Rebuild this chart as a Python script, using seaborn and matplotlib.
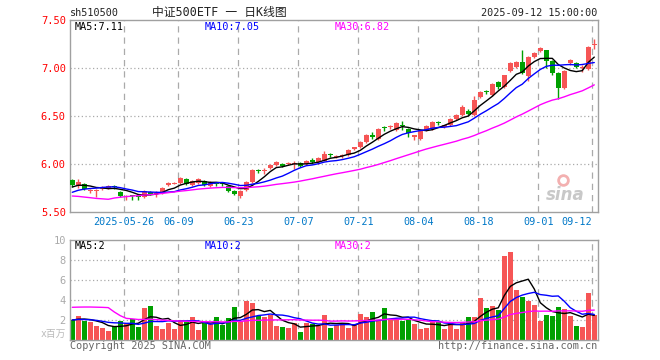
import numpy as np
import pandas as pd
import seaborn as sns
import matplotlib.pyplot as plt

# daily candles, 2025-05-13 .. 2025-09-12
opens = [5.83, 5.78, 5.79, 5.715, 5.72, 5.74, 5.75, 5.76, 5.71, 5.66,
         5.67, 5.66, 5.66, 5.71, 5.69, 5.70, 5.78, 5.795, 5.80, 5.84,
         5.78, 5.80, 5.82, 5.77, 5.80, 5.795, 5.77, 5.72, 5.67, 5.73,
         5.81, 5.935, 5.925, 5.96, 5.99, 6.00, 6.00, 6.00, 6.01, 6.00,
         6.045, 6.02, 6.03, 6.095, 6.07, 6.08, 6.09, 6.16, 6.18, 6.23,
         6.30, 6.26, 6.375, 6.38, 6.35, 6.41, 6.36, 6.285, 6.26, 6.35,
         6.36, 6.435, 6.38, 6.40, 6.47, 6.51, 6.55, 6.51, 6.70, 6.75,
         6.72, 6.85, 6.80, 6.97, 7.01, 7.06, 6.91, 7.11, 7.17, 7.18,
         7.07, 6.95, 6.79, 7.05, 7.05, 6.995, 6.99, 7.24]
closes = [5.78, 5.81, 5.74, 5.72, 5.725, 5.76, 5.77, 5.755, 5.67, 5.665,
          5.665, 5.655, 5.72, 5.69, 5.70, 5.75, 5.80, 5.80, 5.85, 5.79,
          5.82, 5.84, 5.78, 5.81, 5.795, 5.79, 5.72, 5.69, 5.72, 5.81,
          5.94, 5.93, 5.93, 5.99, 6.02, 5.98, 6.01, 6.005, 5.98, 6.03,
          6.015, 6.06, 6.10, 6.09, 6.075, 6.085, 6.15, 6.165, 6.23, 6.30,
          6.28, 6.36, 6.37, 6.39, 6.43, 6.39, 6.32, 6.29, 6.34, 6.39,
          6.44, 6.43, 6.40, 6.47, 6.51, 6.59, 6.52, 6.67, 6.75, 6.745,
          6.83, 6.80, 6.92, 7.05, 7.06, 6.95, 7.11, 7.15, 7.21, 7.07,
          6.95, 6.79, 6.97, 7.08, 7.01, 7.00, 7.22, 7.245]
highs = [5.84, 5.84, 5.80, 5.74, 5.74, 5.77, 5.78, 5.78, 5.72, 5.68,
         5.68, 5.67, 5.73, 5.72, 5.72, 5.76, 5.81, 5.81, 5.86, 5.85,
         5.83, 5.85, 5.83, 5.82, 5.81, 5.80, 5.78, 5.73, 5.73, 5.82,
         5.95, 5.95, 5.96, 6.00, 6.03, 6.01, 6.02, 6.03, 6.02, 6.04,
         6.06, 6.07, 6.13, 6.11, 6.09, 6.10, 6.16, 6.18, 6.24, 6.31,
         6.33, 6.37, 6.39, 6.40, 6.44, 6.45, 6.37, 6.30, 6.35, 6.40,
         6.45, 6.45, 6.41, 6.48, 6.52, 6.61, 6.57, 6.71, 6.76, 6.77,
         6.84, 6.86, 6.93, 7.06, 7.07, 7.18, 7.12, 7.16, 7.22, 7.19,
         7.08, 6.96, 6.98, 7.09, 7.06, 7.03, 7.23, 7.30]
lows = [5.76, 5.75, 5.73, 5.70, 5.66, 5.73, 5.74, 5.74, 5.66, 5.63,
        5.63, 5.63, 5.65, 5.68, 5.66, 5.69, 5.77, 5.79, 5.79, 5.78,
        5.77, 5.79, 5.77, 5.76, 5.77, 5.77, 5.71, 5.68, 5.65, 5.72,
        5.80, 5.91, 5.90, 5.95, 5.98, 5.97, 5.99, 5.95, 5.97, 5.99,
        6.00, 6.00, 6.03, 6.07, 6.06, 6.06, 6.08, 6.14, 6.17, 6.22,
        6.26, 6.25, 6.34, 6.36, 6.34, 6.35, 6.28, 6.25, 6.25, 6.34,
        6.35, 6.40, 6.37, 6.39, 6.46, 6.50, 6.51, 6.50, 6.69, 6.73,
        6.71, 6.78, 6.79, 6.96, 7.00, 6.94, 6.86, 7.10, 7.16, 7.00,
        6.93, 6.68, 6.78, 7.03, 7.00, 6.96, 6.98, 7.20]
# volume, millions
volumes = [2.03, 2.43, 1.97, 1.83, 1.43, 1.23, 0.93, 1.43, 1.97, 1.70,
           2.10, 1.33, 3.23, 3.43, 1.43, 1.13, 1.73, 1.13, 2.03, 1.90,
           2.33, 1.03, 1.73, 1.63, 2.33, 1.53, 2.23, 3.33, 1.93, 3.93,
           3.73, 2.43, 2.33, 2.53, 1.43, 1.33, 1.23, 1.73, 0.87, 1.70,
           1.63, 1.43, 2.53, 1.27, 1.53, 1.77, 1.27, 1.53, 2.67, 2.37,
           2.87, 2.03, 3.27, 2.13, 2.13, 1.97, 2.10, 1.63, 1.17, 1.27,
           1.87, 1.87, 1.17, 1.77, 1.17, 1.87, 2.33, 2.33, 4.23, 3.23,
           3.43, 3.03, 8.43, 8.83, 5.03, 4.33, 3.93, 3.53, 1.97, 2.53,
           2.43, 3.33, 3.13, 2.43, 1.43, 1.33, 4.73, 2.53]

# 29 sessions before the window, only used to warm up the moving averages
prior_close = [5.93, 5.95, 5.92, 5.94, 5.90, 5.91, 5.36, 5.42, 5.47, 5.50,
               5.52, 5.55, 5.54, 5.53, 5.55, 5.56, 5.58, 5.60, 5.61, 5.60,
               5.60, 5.62, 5.66, 5.68, 5.69, 5.72, 5.74, 5.76, 5.80]
prior_volume = [1.9, 1.7, 1.8, 1.9, 1.7, 1.8, 14.5, 13.0, 9.8, 3.6,
                3.2, 3.0, 2.8, 2.7, 2.6, 2.6, 2.5, 2.6, 2.5, 2.5,
                1.9, 2.0, 2.1, 2.0, 2.17, 2.0, 1.9, 2.1, 2.1]

tick_index = [9, 18, 28, 38, 48, 58, 68, 78, 87]
tick_labels = ["2025-05-26", "06-09", "06-23", "07-07", "07-21",
               "08-04", "08-18", "09-01", "09-12"]
ma_windows = [5, 10, 30]
ma_colors = ["black", "#0000ff", "#ff00ff"]

RED = "#f65555"
GREEN = "#00a000"
FRAME = "#a0a0a0"
GRID = "#aaaaaa"


def moving_avgs(prior, values):
    s = pd.Series(list(prior) + list(values))
    return {w: s.rolling(w).mean().iloc[len(prior):].to_numpy() for w in ma_windows}


def style_panel(ax, ylim, yticks, hgrid):
    ax.set_xlim(-0.38, 87.57)
    ax.set_ylim(*ylim)
    ax.set_yticks(yticks)
    for sp in ax.spines.values():
        sp.set_color(FRAME)
        sp.set_linewidth(1)
    for y in hgrid:
        ax.axhline(y, color=GRID, linestyle=(0, (1, 2)), linewidth=0.9, zorder=0)
    for t in tick_index:
        ax.axvline(t - 0.33, color=GRID, linestyle=(0, (5, 4)), linewidth=0.9, zorder=0)
    ax.tick_params(length=0)


sns.set_style("white")
plt.rcParams["font.family"] = ["DejaVu Sans Mono", "Noto Sans CJK SC"]

idx = np.arange(len(closes))
o, c, h, l, v = map(np.array, (opens, closes, highs, lows, volumes))
cols = [RED if cc >= oo else GREEN for oo, cc in zip(o, c)]

fig = plt.figure(figsize=(6.6, 3.6), dpi=100)
ax1 = fig.add_axes([70 / 660, 1 - 212 / 360, 527.7 / 660, 192.3 / 360])
ax2 = fig.add_axes([70 / 660, 1 - 340.3 / 360, 527.7 / 660, 100 / 360])

# ---- price panel ----
style_panel(ax1, (5.5, 7.5), [5.5, 6.0, 6.5, 7.0, 7.5], [6.0, 6.5, 7.0])
ax1.vlines(idx, l, h, colors=cols, linewidth=1, zorder=2)
body_lo = np.minimum(o, c)
body_h = np.maximum(np.abs(c - o), 0.011)
ax1.bar(idx, body_h, bottom=body_lo, width=0.78, color=cols, linewidth=0, zorder=3)

price_ma = moving_avgs(prior_close, closes)
for w, col in zip(ma_windows, ma_colors):
    df = pd.DataFrame({"i": idx, "ma": price_ma[w]})
    sns.lineplot(data=df, x="i", y="ma", ax=ax1, color=col, linewidth=1,
                 legend=False, errorbar=None, zorder=4)
ax1.set_xlabel("")
ax1.set_ylabel("")
ax1.set_yticklabels(["5.50", "6.00", "6.50", "7.00", "7.50"], color="red", fontsize=7.5)
ax1.tick_params(axis="y", pad=3)
ax1.set_xticks([t - 0.33 for t in tick_index])
ax1.set_xticklabels(tick_labels, color="#0078c8", fontsize=7.3)
ax1.tick_params(axis="x", pad=3.5)
ax1.get_xticklabels()[-1].set_ha("right")

ax1.text(5 / 527.7, 0.963, "MA5:%.2f" % price_ma[5][-1], transform=ax1.transAxes,
         fontsize=7.3, color="black", va="center")
ax1.text(135 / 527.7, 0.963, "MA10:%.2f" % price_ma[10][-1], transform=ax1.transAxes,
         fontsize=7.3, color="#0000ff", va="center")
ax1.text(265 / 527.7, 0.963, "MA30:%.2f" % price_ma[30][-1], transform=ax1.transAxes,
         fontsize=7.3, color="#ff00ff", va="center")

# watermark
ax1.text(0.975, 0.09, "sina", transform=ax1.transAxes, ha="right", va="center",
         fontsize=12, fontweight="bold", style="italic", color="#c8c8c8",
         family="DejaVu Sans", zorder=1)
ax1.plot([0.935], [0.165], transform=ax1.transAxes, marker="o", markersize=7,
         markerfacecolor="none", markeredgecolor="#f3b0b0", markeredgewidth=2, zorder=1)

# ---- volume panel ----
style_panel(ax2, (0, 10), [2, 4, 6, 8, 10], [2, 4, 6, 8])
ax2.bar(idx, v, width=0.88, color=cols, linewidth=0, zorder=2)
vol_ma = moving_avgs(prior_volume, volumes)
for w, col in zip(ma_windows, ma_colors):
    df = pd.DataFrame({"i": idx, "ma": vol_ma[w]})
    sns.lineplot(data=df, x="i", y="ma", ax=ax2, color=col, linewidth=1,
                 legend=False, errorbar=None, zorder=4)
ax2.set_xlabel("")
ax2.set_ylabel("")
ax2.set_xticks([t - 0.33 for t in tick_index])
ax2.set_xticklabels([])
ax2.set_yticklabels(["2", "4", "6", "8", "10"], color="#aaaaaa", fontsize=7.5)
ax2.tick_params(axis="y", pad=3)
ax2.text(5 / 527.7, 0.94, "MA5:2", transform=ax2.transAxes, fontsize=7.3,
         color="black", va="center")
ax2.text(135 / 527.7, 0.94, "MA10:2", transform=ax2.transAxes, fontsize=7.3,
         color="#0000ff", va="center")
ax2.text(265 / 527.7, 0.94, "MA30:2", transform=ax2.transAxes, fontsize=7.3,
         color="#ff00ff", va="center")

# ---- header / footer ----
fig.text(70 / 660, 1 - 12.5 / 360, "sh510500", fontsize=7.3, va="center", color="#222222")
fig.text(219 / 660, 1 - 12.5 / 360, "中证500ETF 一 日K线图", fontsize=8.5, ha="center",
         va="center", color="#222222")
fig.text(597 / 660, 1 - 12.5 / 360, "2025-09-12 15:00:00", fontsize=7.3, ha="right",
         va="center", color="#222222")
fig.text(66 / 660, 1 - 339 / 360, "x百万", fontsize=7, ha="right", va="bottom",
         color="#bbbbbb")
fig.text(70 / 660, 1 - 346 / 360, "Copyright 2025 SINA.COM", fontsize=7.3, va="center",
         color="#666666")
fig.text(597 / 660, 1 - 346 / 360, "http://finance.sina.com.cn", fontsize=7.3,
         ha="right", va="center", color="#666666")

fig.savefig("out.png", dpi=100)
